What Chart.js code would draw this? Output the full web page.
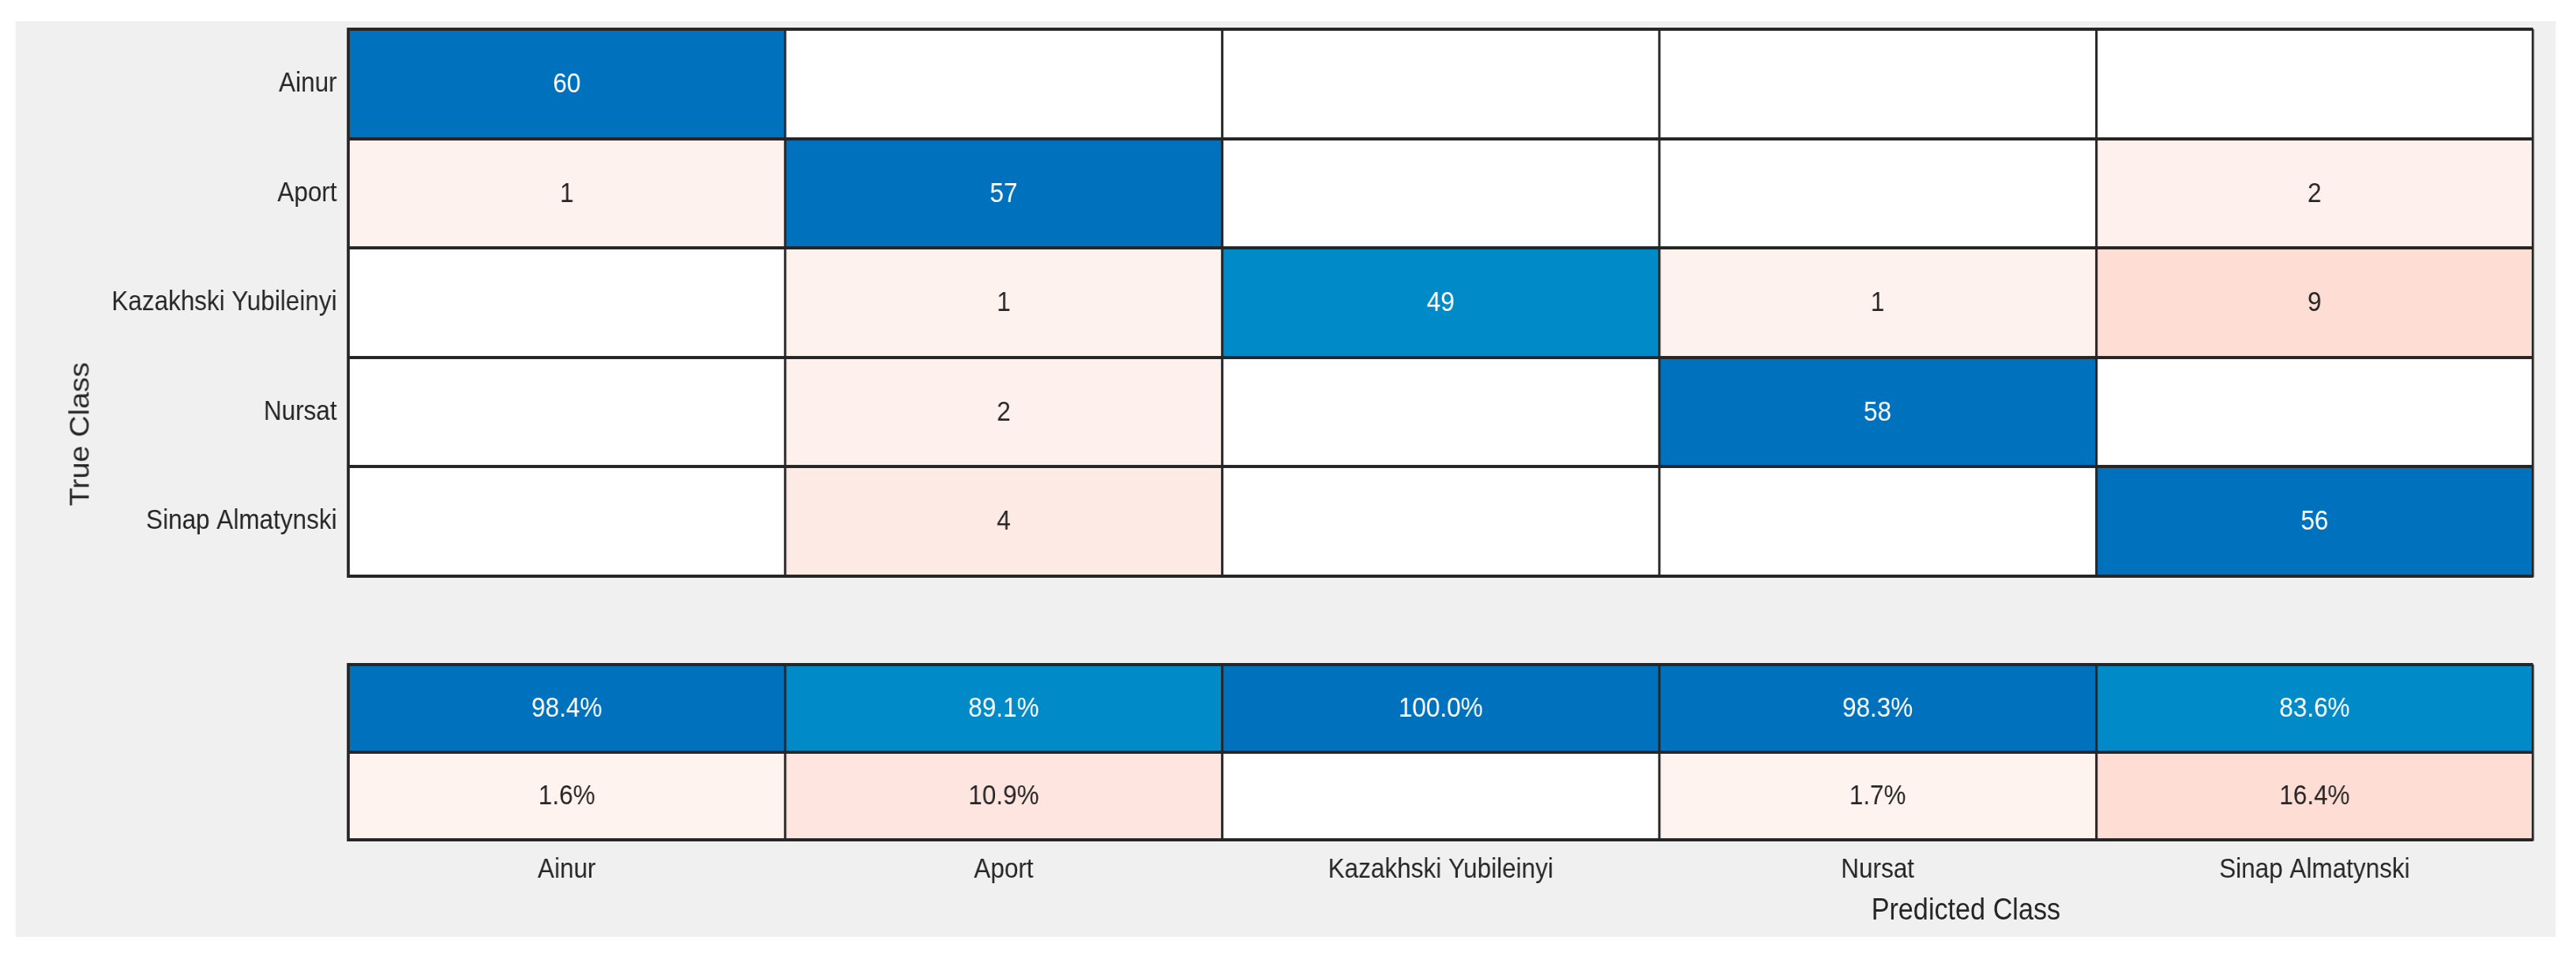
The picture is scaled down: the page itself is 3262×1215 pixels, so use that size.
<!DOCTYPE html>
<html>
<head>
<meta charset="utf-8">
<script src="https://cdn.jsdelivr.net/npm/chart.js@4.4.1/dist/chart.umd.min.js"></script>
<style>
  body { margin: 0; background: #fff; width: 3262px; height: 1215px; position: relative; overflow: hidden;
         font-family: 'Liberation Sans', Arial, sans-serif; }
  /* the figure is drawn 10% wider and squeezed back, like the slightly narrow reference text */
  #figure { position: absolute; left: 0; top: 0; width: 3624px; height: 1215px;
            transform: scaleX(0.9); transform-origin: 0 0; }
  #panel { position: absolute; left: 22px; top: 27px; width: 3574px; height: 1160px; background: #f0f0f0; }
  canvas { position: absolute; left: 22px; }
  #matrix { top: 27px; }
  #summary { top: 787px; }
  .axis-title { position: absolute; color: #262626; white-space: nowrap; font-size: 38px; }
  #trueTitle { left: 112px; top: 550px; transform: translate(-50%, -50%) rotate(-90deg); }
  #predTitle { left: 2766px; top: 1152px; transform: translate(-50%, -50%); }
</style>
</head>
<body>
<div id="figure">
  <div id="panel"></div>
  <canvas id="matrix" width="3574" height="760"></canvas>
  <canvas id="summary" width="3574" height="400"></canvas>
  <div class="axis-title" id="trueTitle">True Class</div>
  <div class="axis-title" id="predTitle">Predicted Class</div>
</div>
<script>
// classes (same order for true and predicted)
const classes = ['Ainur', 'Aport', 'Kazakhski Yubileinyi', 'Nursat', 'Sinap Almatynski'];

// confusion counts, one array per true class (columns = predicted class)
const ainurRow = [60, 0, 0, 0, 0];
const aportRow = [1, 57, 0, 0, 2];
const kazakhskiRow = [0, 1, 49, 1, 9];
const nursatRow = [0, 2, 0, 58, 0];
const sinapRow = [0, 4, 0, 0, 56];
const countRows = [ainurRow, aportRow, kazakhskiRow, nursatRow, sinapRow];
const samplesPerClass = 60;

// column summary (precision / false discovery rate, %)
const precision = [98.4, 89.1, 100.0, 98.3, 83.6];
const falseDiscovery = [1.6, 10.9, 0.0, 1.7, 16.4];

const lineColor = '#262626';
const textColor = '#262626';
const fontFamily = "'Liberation Sans', Arial, sans-serif";
const fontSize = 35;

function blueShade(t) {
    return t >= 0.92 ? 'rgb(0,114,189)' : 'rgb(0,138,200)';
}
function redShade(t) {
    if (t <= 0) return '#ffffff';
    return `rgb(254,${Math.round(245 - 24 * t)},${Math.round(242 - 29 * t)})`;
}

// writes the value in the middle of every non-empty cell
const cellText = {
    id: 'cellText',
    afterDatasetsDraw(chart, args, opts) {
        const ctx = chart.ctx;
        ctx.save();
        ctx.font = fontSize + 'px ' + fontFamily;
        ctx.textAlign = 'center';
        ctx.textBaseline = 'middle';
        chart.data.datasets.forEach((ds, i) => {
            chart.getDatasetMeta(i).data.forEach((bar, j) => {
                const v = ds.values[j];
                if (!v) return;
                ctx.fillStyle = ds.textColors[j];
                ctx.fillText(opts.format(v), bar.x, (bar.y + bar.base) / 2 + 1);
            });
        });
        ctx.restore();
    }
};

function gridScale(labels, lineWidth, extra) {
    return Object.assign({
        type: 'category',
        labels: labels,
        offset: true,
        grid: { offset: true, color: lineColor, lineWidth: lineWidth, drawTicks: false, z: 1 },
        border: { color: lineColor, width: lineWidth, z: 1 }
    }, extra);
}

function yAxisFit(s) {
    s.width = 446;
    s.paddingTop = 0;
    s.paddingBottom = 0;
}

// confusion matrix
const matrixMax = Math.max(...countRows.flatMap((row, r) => row.filter((v, c) => c !== r)));
const matrixSets = countRows.map((row, r) => ({
    data: row.map(() => [r, r + 1]),
    values: row,
    backgroundColor: row.map((v, c) => c === r ? blueShade(v / samplesPerClass) : redShade(v / matrixMax)),
    textColors: row.map((v, c) => c === r ? '#ffffff' : textColor),
    borderWidth: 0,
    yAxisID: 'yv',
    barPercentage: 1,
    categoryPercentage: 1,
    grouped: false
}));

new Chart(document.getElementById('matrix'), {
    type: 'bar',
    data: { labels: classes, datasets: matrixSets },
    options: {
        responsive: false,
        animation: false,
        devicePixelRatio: 1,
        layout: { padding: { top: 10, right: 32, left: 22, bottom: 0 } },
        plugins: {
            legend: { display: false },
            tooltip: { enabled: false },
            cellText: { format: v => String(v) }
        },
        scales: {
            x: gridScale(classes, 3.3, {
                ticks: { display: false },
                afterFit(s) { s.height = 57; }
            }),
            y: gridScale(classes, 4, {
                position: 'left',
                ticks: { font: { family: fontFamily, size: fontSize }, color: textColor, padding: 16 },
                afterFit: yAxisFit
            }),
            yv: { type: 'linear', display: false, min: 0, max: countRows.length, reverse: true }
        }
    },
    plugins: [cellText]
});

// precision / false discovery rows
const fdrMax = Math.max(...falseDiscovery);
const summaryRows = [precision, falseDiscovery];
const summarySets = summaryRows.map((row, r) => ({
    data: row.map(() => [r, r + 1]),
    values: row,
    backgroundColor: row.map(v => r === 0 ? blueShade(v / 100) : redShade(v / fdrMax)),
    textColors: row.map(() => r === 0 ? '#ffffff' : textColor),
    borderWidth: 0,
    yAxisID: 'yv',
    barPercentage: 1,
    categoryPercentage: 1,
    grouped: false
}));

new Chart(document.getElementById('summary'), {
    type: 'bar',
    data: { labels: classes, datasets: summarySets },
    options: {
        responsive: false,
        animation: false,
        devicePixelRatio: 1,
        layout: { padding: { top: 55, right: 32, left: 22, bottom: 0 } },
        plugins: {
            legend: { display: false },
            tooltip: { enabled: false },
            cellText: { format: v => v.toFixed(1) + '%' }
        },
        scales: {
            x: gridScale(classes, 3.3, {
                ticks: { font: { family: fontFamily, size: fontSize }, color: textColor, padding: 17 },
                afterFit(s) { s.height = 123; }
            }),
            y: gridScale(['', ''], 4, {
                position: 'left',
                ticks: { display: false },
                afterFit: yAxisFit
            }),
            yv: { type: 'linear', display: false, min: 0, max: summaryRows.length, reverse: true }
        }
    },
    plugins: [cellText]
});
</script>
</body>
</html>
